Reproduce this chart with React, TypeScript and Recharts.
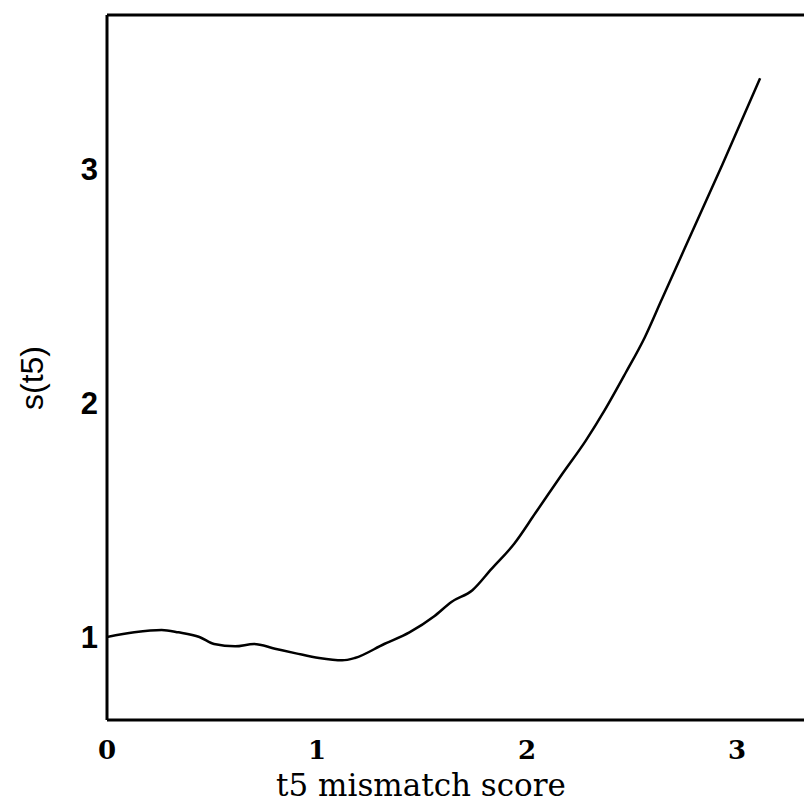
import { Label, Line, LineChart, ReferenceLine, XAxis, YAxis } from "recharts";

// mismatch score (x) and smoothed s(t5) (y)
const scores = [
  0, 0.13, 0.26, 0.34, 0.44, 0.51, 0.61, 0.7, 0.8, 0.9, 1.01, 1.12, 1.18, 1.32, 1.44,
  1.56, 1.64, 1.74, 1.83, 1.94, 2.04, 2.17, 2.28, 2.37, 2.47, 2.56, 2.64, 2.75, 2.93, 3.11,
];
const sValues = [
  1.0, 1.02, 1.03, 1.02, 1.0, 0.97, 0.96, 0.97, 0.95, 0.93, 0.91, 0.9, 0.91, 0.97, 1.02,
  1.09, 1.15, 1.2, 1.29, 1.4, 1.53, 1.7, 1.84, 1.97, 2.13, 2.28, 2.44, 2.66, 3.02, 3.39,
];
const xTicks = [0, 1, 2, 3];
const yTicks = [1, 2, 3];

const X_MAX = 3.5;
const Y_MIN = 0.645;
const Y_MAX = 3.66;

const data = scores.map((x, i) => ({ x, s: sValues[i] }));

const frame = { stroke: "#000", strokeWidth: 3 };

const XTitle = ({ viewBox }: any) => (
  <text
    x={viewBox.x + 314}
    y={viewBox.y + 76}
    textAnchor="middle"
    fontFamily="DejaVu Serif"
    fontSize={31}
    fill="#000"
  >
    t5 mismatch score
  </text>
);

const YTitle = ({ viewBox }: any) => {
  const x = viewBox.x + 24;
  const y = viewBox.y + 363;
  return (
    <text
      x={x}
      y={y}
      transform={`rotate(-90, ${x}, ${y})`}
      textAnchor="middle"
      dominantBaseline="central"
      fontFamily="Liberation Sans"
      fontSize={32}
      fill="#000"
    >
      s(t5)
    </text>
  );
};

export default function App() {
  return (
    <div
      style={{
        position: "absolute",
        left: 8,
        top: 8,
        width: 796,
        height: 800,
        overflow: "hidden",
        background: "#fff",
      }}
    >
      <LineChart
        width={834}
        height={800}
        data={data}
        margin={{ top: 7, right: 0, bottom: 0, left: 0 }}
      >
        <XAxis
          dataKey="x"
          type="number"
          domain={[0, X_MAX]}
          ticks={xTicks}
          allowDataOverflow
          height={88}
          tickLine={false}
          tickSize={0}
          tickMargin={21}
          axisLine={frame}
          tick={{ fill: "#000", fontSize: 26, fontFamily: "DejaVu Serif", fontWeight: 700 }}
        >
          <Label content={<XTitle />} />
        </XAxis>
        <YAxis
          type="number"
          domain={[Y_MIN, Y_MAX]}
          ticks={yTicks}
          allowDataOverflow
          width={99}
          tickLine={false}
          tickSize={0}
          tickMargin={9}
          axisLine={frame}
          tick={{ fill: "#000", fontSize: 31, fontFamily: "Liberation Sans", fontWeight: 700 }}
        >
          <Label content={<YTitle />} />
        </YAxis>
        <ReferenceLine y={Y_MAX} stroke="#000" strokeWidth={3} />
        <Line
          type="monotone"
          dataKey="s"
          stroke="#000"
          strokeWidth={2.5}
          dot={false}
          isAnimationActive={false}
        />
      </LineChart>
    </div>
  );
}
